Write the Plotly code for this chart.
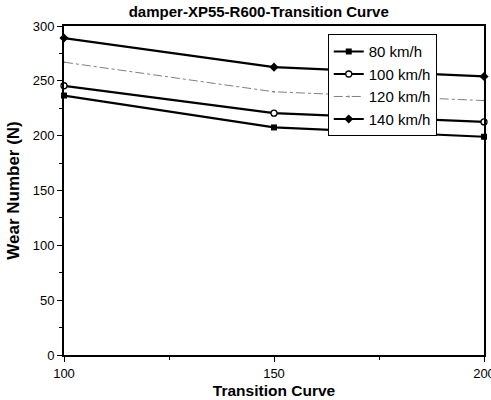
import plotly.graph_objects as go

transition_curve = [100, 150, 200]
wear_80 = [236.6, 207.5, 199.0]
wear_100 = [245.5, 220.5, 212.5]
wear_120 = [267.0, 240.0, 232.0]
wear_140 = [289.0, 262.5, 254.0]

series = [
    ("80 km/h", wear_80, dict(color="black", width=2.2), dict(symbol="square", size=6, color="black")),
    ("100 km/h", wear_100, dict(color="black", width=2.2),
     dict(symbol="circle", size=6, color="white", line=dict(width=1.3, color="black"))),
    ("120 km/h", wear_120, dict(color="#808080", width=1, dash="dashdot"),
     dict(symbol="circle", size=2, color="#808080")),
    ("140 km/h", wear_140, dict(color="black", width=2.2), dict(symbol="diamond", size=7, color="black")),
]

fig = go.Figure()
for name, values, line, marker in series:
    fig.add_trace(go.Scatter(x=transition_curve, y=values, name=name, mode="lines+markers",
                             line=line, marker=marker, cliponaxis=False))

axis_common = dict(
    showline=True, linecolor="black", linewidth=1.8, mirror=True,
    ticks="outside", ticklen=5, tickwidth=1, tickcolor="black",
    showgrid=False, zeroline=False, automargin=False,
    tickfont=dict(family="Arial, Liberation Sans", size=13, color="black"),
    minor=dict(ticks="outside", ticklen=3, tickcolor="black", dtick=25),
)

fig.update_xaxes(range=[100, 200], dtick=50, tick0=100, ticklabeloverflow="allow",
                 title=dict(text="<b>Transition Curve</b>", standoff=6,
                            font=dict(family="Arial, Liberation Sans", size=15.5, color="black")),
                 **axis_common)
fig.update_yaxes(range=[0, 300], dtick=50, tick0=0,
                 title=dict(text="<b>Wear Number (N)</b>", standoff=9,
                            font=dict(family="Arial, Liberation Sans", size=17, color="black")),
                 **axis_common)

fig.update_layout(
    width=491, height=400,
    margin=dict(l=64, r=7, t=26, b=45),
    paper_bgcolor="white", plot_bgcolor="white",
    title=dict(text="<b>damper-XP55-R600-Transition Curve</b>", x=0.527, xanchor="center",
               y=0.97, yanchor="middle",
               font=dict(family="Arial, Liberation Sans", size=15, color="black")),
    legend=dict(x=0.628, y=0.975, xanchor="left", yanchor="top",
                bgcolor="white", bordercolor="black", borderwidth=1,
                font=dict(family="Arial, Liberation Sans", size=15, color="black"),
                tracegroupgap=0, itemsizing="trace"),
    showlegend=True,
)

fig.write_html("out.html")
